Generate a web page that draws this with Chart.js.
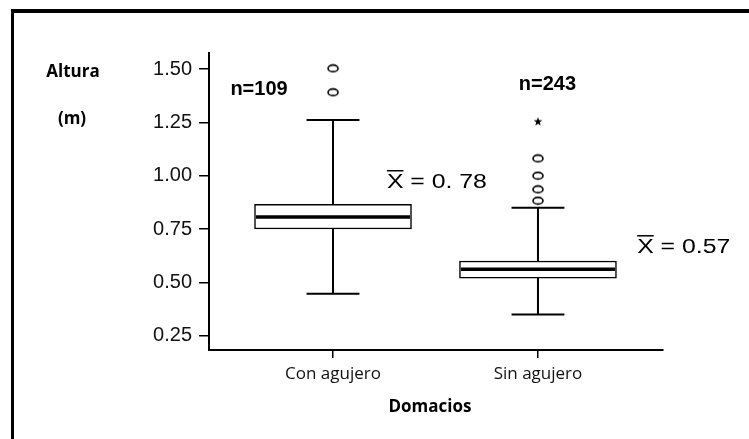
<!DOCTYPE html>
<html>
<head>
<meta charset="utf-8">
<script src="https://cdn.jsdelivr.net/npm/chart.js@4/dist/chart.umd.min.js"></script>
<style>
	html, body { margin: 0; padding: 0; background: #fff; }
	#wrap { position: relative; width: 749px; height: 439px; overflow: hidden; }
	#frame { position: absolute; left: 11px; top: 9px; right: -20px; bottom: -20px; border-top: 4px solid #000; border-left: 3px solid #000; }
	#myChart { position: absolute; left: 0; top: 0; }
</style>
</head>
<body>
<div id="wrap">
	<div id="frame"></div>
	<canvas id="myChart" width="749" height="439"></canvas>
</div>
<script>
//Values

const groups = ['Con agujero', 'Sin agujero'];
const q1 = [0.75, 0.52];
const median = [0.806, 0.561];
const q3 = [0.866, 0.60];
const whiskerLow = [0.447, 0.349];
const whiskerHigh = [1.261, 0.85];
const outliers = [[1.391, 1.503], [0.883, 0.936, 1.0, 1.081]];
const extremes = [[], [1.253]];
const counts = [109, 243];
const meanLabels = ['0. 78', '0.57'];
const yTicks = [0.25, 0.5, 0.75, 1.0, 1.25, 1.5];

//Point images for outliers (open ellipse) and extremes (star)

function ellipseImg() {
	let c = document.createElement('canvas');
	c.width = 14;
	c.height = 10;
	let g = c.getContext('2d');
	g.lineWidth = 1.6;
	g.strokeStyle = '#000';
	g.fillStyle = '#fff';
	g.beginPath();
	g.ellipse(7, 5, 5, 3.4, 0, 0, Math.PI * 2);
	g.fill();
	g.stroke();
	return c;
}

function starImg() {
	let c = document.createElement('canvas');
	c.width = 12;
	c.height = 12;
	let g = c.getContext('2d');
	g.fillStyle = '#000';
	g.beginPath();
	for (let k = 0; k < 10; k++) {
		let r = k % 2 === 0 ? 4.5 : 1.9;
		let a = -Math.PI / 2 + k * Math.PI / 5;
		g.lineTo(6 + r * Math.cos(a), 6 + r * Math.sin(a));
	}
	g.closePath();
	g.fill();
	return c;
}

let outlierPoints = [];
let extremePoints = [];
groups.forEach((g, i) => {
	outliers[i].forEach(v => outlierPoints.push({ x: i, y: v }));
	extremes[i].forEach(v => extremePoints.push({ x: i, y: v }));
});

//Whiskers, caps, medians and the text annotations

const boxExtras = {
	id: 'boxExtras',
	afterDatasetsDraw(chart) {
		const ctx = chart.ctx;
		const x = chart.scales.x;
		const y = chart.scales.y;
		const bars = chart.getDatasetMeta(0).data;
		ctx.save();
		ctx.strokeStyle = '#000';
		groups.forEach((g, i) => {
			let cx = x.getPixelForValue(i);
			let capHalf = x.getPixelForValue(i + 0.129) - cx;
			ctx.lineWidth = 2;
			ctx.beginPath();
			ctx.moveTo(cx, y.getPixelForValue(q3[i]));
			ctx.lineTo(cx, y.getPixelForValue(whiskerHigh[i]));
			ctx.moveTo(cx, y.getPixelForValue(q1[i]));
			ctx.lineTo(cx, y.getPixelForValue(whiskerLow[i]));
			ctx.moveTo(cx - capHalf, y.getPixelForValue(whiskerHigh[i]));
			ctx.lineTo(cx + capHalf, y.getPixelForValue(whiskerHigh[i]));
			ctx.moveTo(cx - capHalf, y.getPixelForValue(whiskerLow[i]));
			ctx.lineTo(cx + capHalf, y.getPixelForValue(whiskerLow[i]));
			ctx.stroke();

			let half = bars[i].width / 2 - 1.5;
			ctx.lineWidth = 3.5;
			ctx.beginPath();
			ctx.moveTo(cx - half, y.getPixelForValue(median[i]));
			ctx.lineTo(cx + half, y.getPixelForValue(median[i]));
			ctx.stroke();
		});

		// n labels
		const nPos = [[-0.361, 1.406], [1.046, 1.427]];
		ctx.fillStyle = '#000';
		ctx.font = 'bold 20px "Liberation Sans", Arial, sans-serif';
		ctx.textAlign = 'center';
		ctx.textBaseline = 'middle';
		counts.forEach((n, i) => {
			ctx.fillText('n=' + n, x.getPixelForValue(nPos[i][0]), y.getPixelForValue(nPos[i][1]));
		});

		// mean labels with an overbar X
		const meanPos = [[0.263, 0.967], [1.484, 0.662]];
		ctx.textAlign = 'left';
		meanLabels.forEach((m, i) => {
			let px = x.getPixelForValue(meanPos[i][0]);
			let py = y.getPixelForValue(meanPos[i][1]);
			ctx.save();
			ctx.translate(px, py);
			ctx.scale(1.24, 1);
			ctx.font = '20px "Liberation Sans", Arial, sans-serif';
			let xw = ctx.measureText('X').width;
			ctx.fillText('X = ' + m, 0, 0);
			ctx.lineWidth = 1.5;
			ctx.beginPath();
			ctx.moveTo(0, -12);
			ctx.lineTo(xw, -12);
			ctx.stroke();
			ctx.restore();
		});

		// axis titles
		ctx.textAlign = 'center';
		ctx.font = 'bold 17px "Open Sans", sans-serif';
		ctx.fillText('Altura', 73, 72);
		ctx.fillText('(m)', 72, 119);
		ctx.fillText('Domacios', 430, 407);
		ctx.restore();
	}
};

const ctx = document.getElementById('myChart').getContext('2d');
const myChart = new Chart(ctx, {
	data: {
		datasets: [{
			type: 'bar',
			data: groups.map((g, i) => ({ x: i, y: [q1[i], q3[i]] })),
			backgroundColor: '#fff',
			borderColor: '#000',
			borderWidth: 1.5,
			borderSkipped: false,
			barThickness: 157
		}, {
			type: 'scatter',
			data: outlierPoints,
			pointStyle: ellipseImg(),
			pointRadius: 5
		}, {
			type: 'scatter',
			data: extremePoints,
			pointStyle: starImg(),
			pointRadius: 5
		}]
	},
	options: {
		responsive: false,
		animation: false,
		devicePixelRatio: 1,
		layout: {
			padding: { left: 0, top: 53, right: 86, bottom: 0 }
		},
		plugins: {
			legend: { display: false },
			tooltip: { enabled: false }
		},
		scales: {
			x: {
				type: 'linear',
				offset: false,
				min: -0.605,
				max: 1.61,
				afterBuildTicks: s => { s.ticks = groups.map((g, i) => ({ value: i })); },
				afterFit: s => { s.height = 89; },
				border: { color: '#000', width: 2 },
				grid: { offset: false, drawOnChartArea: false, color: '#000', lineWidth: 1.5, tickLength: 8 },
				ticks: {
					color: '#111',
					padding: 6,
					font: { family: '"Open Sans", sans-serif', size: 17 },
					callback: v => groups[v]
				}
			},
			y: {
				min: 0.183,
				max: 1.575,
				afterBuildTicks: s => { s.ticks = yTicks.map(v => ({ value: v })); },
				afterFit: s => { s.width = 209; },
				border: { color: '#000', width: 2 },
				grid: { drawOnChartArea: false, color: '#000', lineWidth: 1.5, tickLength: 10 },
				ticks: {
					color: '#111',
					padding: 7,
					font: { family: '"Liberation Sans", Arial, sans-serif', size: 20 },
					callback: v => v.toFixed(2)
				}
			}
		}
	},
	plugins: [boxExtras]
});
</script>
</body>
</html>
